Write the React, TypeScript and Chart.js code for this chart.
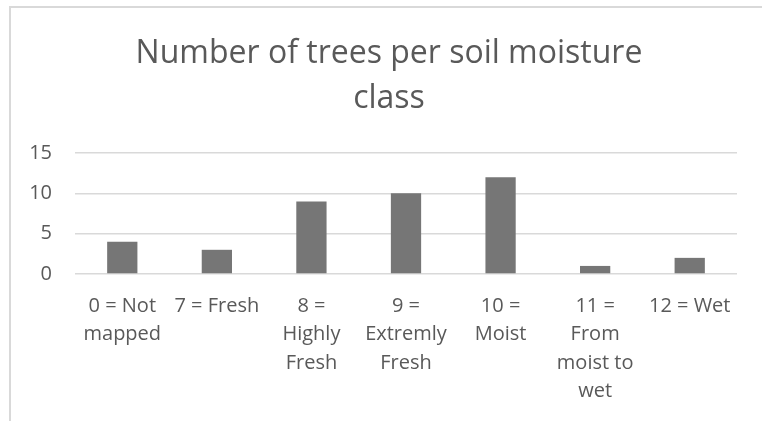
import { useEffect, useRef } from 'react';
import { Chart, registerables } from 'chart.js';

Chart.register(...registerables);

const titleLines = ['Number of trees per soil moisture', 'class'];
const categories = [
  ['0 = Not', 'mapped'],
  ['7 = Fresh'],
  ['8 =', 'Highly', 'Fresh'],
  ['9 =', 'Extremly', 'Fresh'],
  ['10 =', 'Moist'],
  ['11 =', 'From', 'moist to', 'wet'],
  ['12 = Wet'],
];
const treeCounts = [4, 3, 9, 10, 12, 1, 2];
const yMin = 0;
const yMax = 15;
const yStep = 5;

const FONT = "'Open Sans', sans-serif";
const TEXT = '#595959';
const GRID = '#d9d9d9';

const titleShift = {
  id: 'titleShift',
  afterLayout(chart: any) {
    const t = chart.titleBlock;
    if (t) {
      t.left += 41;
    }
  },
};

export default function App() {
  const ref = useRef<HTMLCanvasElement | null>(null);

  useEffect(() => {
    document.body.style.margin = '0';
    document.body.style.overflow = 'hidden';
    if (!ref.current) return;
    const chart = new Chart(ref.current, {
      type: 'bar',
      data: {
        labels: categories,
        datasets: [
          {
            label: 'Trees',
            data: treeCounts,
            backgroundColor: '#767676',
            borderWidth: 0,
            barPercentage: 0.32,
            categoryPercentage: 1,
          },
        ],
      },
      plugins: [titleShift],
      options: {
        animation: false,
        responsive: false,
        maintainAspectRatio: false,
        layout: { padding: { left: 0, right: 25, top: 0, bottom: 0 } },
        plugins: {
          legend: { display: false },
          tooltip: { enabled: false },
          title: {
            display: true,
            text: titleLines,
            color: TEXT,
            font: { family: FONT, size: 32, weight: 'normal', lineHeight: 45 / 32 },
            padding: { top: 31, bottom: 32 },
          },
        },
        scales: {
          x: {
            grid: { display: false, drawTicks: false },
            border: { display: false },
            ticks: {
              color: TEXT,
              font: { family: FONT, size: 20, lineHeight: 28.5 / 20 },
              padding: 18,
              maxRotation: 0,
              autoSkip: false,
            },
            afterFit: (s: any) => {
              s.height = 147;
            },
          },
          y: {
            min: yMin,
            max: yMax,
            grid: { color: GRID, lineWidth: 1.5, drawTicks: false },
            border: { display: false },
            ticks: {
              stepSize: yStep,
              color: TEXT,
              font: { family: FONT, size: 20 },
              padding: 23,
            },
            afterFit: (s: any) => {
              s.width = 75;
            },
          },
        },
      },
    });
    return () => chart.destroy();
  }, []);

  return (
    <div style={{ position: 'relative', width: 762, height: 421 }}>
      <canvas ref={ref} width={762} height={421} style={{ display: 'block' }} />
      <div
        style={{
          position: 'absolute',
          left: 9,
          top: 6,
          right: 0,
          bottom: 0,
          borderTop: '2px solid ' + GRID,
          borderLeft: '2px solid ' + GRID,
          pointerEvents: 'none',
        }}
      />
    </div>
  );
}
